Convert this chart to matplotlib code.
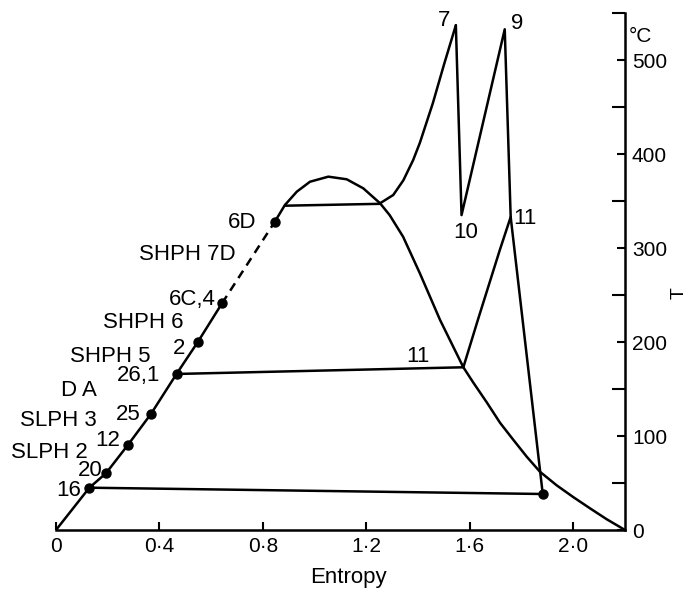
import matplotlib
matplotlib.use("Agg")
import matplotlib.pyplot as plt

plt.rcParams['font.family'] = ['Liberation Sans', 'DejaVu Sans']

# ---------------- data (entropy, temperature) ----------------
# saturated liquid line (solid part) with heater points
liq_s = [0.0, 0.129, 0.193, 0.277, 0.367, 0.466, 0.549, 0.642]
liq_T = [0.0, 45.0, 60.3, 90.1, 123.4, 166.0, 200.3, 241.2]
# dashed section 6C,4 -> 6D
dash_s = [0.642, 0.845]
dash_T = [241.2, 327.5]
# rest of saturation dome from 6D round to s=2.2
dome_s = [0.845, 0.885, 0.931, 0.982, 1.053, 1.124, 1.188, 1.253, 1.29, 1.342,
          1.407, 1.485, 1.575, 1.613, 1.665, 1.717, 1.768, 1.820, 1.871, 1.936,
          2.0, 2.065, 2.129, 2.2]
dome_T = [327.5, 345.7, 359.9, 370.5, 375.9, 373.1, 363.5, 347.6, 335.0, 312.0,
          273.0, 223.4, 173.1, 157.0, 136.0, 114.0, 96.0, 78.0, 62.0, 47.5,
          35.0, 23.0, 11.5, 0.0]
# superheating up to point 7
sup_s = [1.253, 1.304, 1.343, 1.381, 1.407, 1.457, 1.50, 1.546]
sup_T = [347.6, 356.4, 372.0, 393.6, 412.0, 454.0, 495.0, 537.0]
# 7 -> 10 -> 9 -> 11 -> condenser
rh_s = [1.546, 1.568, 1.735, 1.758, 1.882]
rh_T = [537.0, 335.0, 532.7, 333.0, 38.3]
# 11 (on dome) -> 11 (turbine)
ext_s = [1.575, 1.631, 1.716, 1.758]
ext_T = [173.1, 223.4, 297.9, 333.0]
# horizontal lines (evaporation / condensing)
hz1_s = [0.885, 1.253]; hz1_T = [345.0, 347.0]
hz2_s = [0.466, 1.575]; hz2_T = [166.0, 173.1]
hz3_s = [0.129, 1.882]; hz3_T = [45.0, 38.3]
# dots
dot_s = [0.129, 0.193, 0.277, 0.367, 0.466, 0.549, 0.642, 0.845, 1.882]
dot_T = [45.0, 60.3, 90.1, 123.4, 166.0, 200.3, 241.2, 327.5, 38.3]

x_ticks = [0, 0.4, 0.8, 1.2, 1.6, 2.0]
x_labels = ["0", "0·4", "0·8", "1·2", "1·6", "2·0"]
y_ticks = [0, 100, 200, 300, 400, 500]
y_minor = [50, 150, 250, 350, 450, 550]

# labels: text, pixel centre in the image
labels = [
    ("16", 69, 491), ("20", 90, 470), ("SLPH 2", 49, 452), ("12", 108, 441),
    ("SLPH 3", 58, 420), ("25", 128, 414), ("D A", 79, 391), ("26,1", 139, 375),
    ("SHPH 5", 110, 356), ("2", 179, 349), ("SHPH 6", 143, 323),
    ("6C,4", 192, 299), ("SHPH 7D", 187, 254), ("6D", 242, 223),
    ("7", 444, 21), ("9", 517, 23), ("10", 466, 232), ("11", 525, 218),
    ("11", 418, 357),
]

W, H = 688, 589
fig = plt.figure(figsize=(W / 100, H / 100), dpi=100)
x0, x1, yb, yt = 56, 625, 530, 13
ax = fig.add_axes([x0 / W, (H - yb) / H, (x1 - x0) / W, (yb - yt) / H])
ax.set_xlim(0, 2.2)
ax.set_ylim(0, 550)


def px2data(px, py):
    s = (px - x0) / (x1 - x0) * 2.2
    T = (yb - py) / (yb - yt) * 550
    return s, T


lw = 1.8
kw = dict(color="black", lw=lw, solid_capstyle="round", solid_joinstyle="round")
ax.plot(liq_s, liq_T, **kw)
ax.plot(dash_s, dash_T, color="black", lw=lw, dashes=(3.5, 2.5))
ax.plot(dome_s, dome_T, **kw)
ax.plot(sup_s, sup_T, **kw)
ax.plot(rh_s, rh_T, **kw)
ax.plot(ext_s, ext_T, **kw)
for hs, ht in ((hz1_s, hz1_T), (hz2_s, hz2_T), (hz3_s, hz3_T)):
    ax.plot(hs, ht, **kw)
ax.plot(dot_s, dot_T, "o", color="black", ms=6.5, ls="none")

fs = 16
for txt, px, py in labels:
    s, T = px2data(px, py)
    ax.text(s, T, txt, ha="center", va="center", fontsize=fs)

# axes styling
for side in ("left", "top"):
    ax.spines[side].set_visible(False)
ax.spines["bottom"].set_linewidth(1.8)
ax.spines["right"].set_linewidth(1.8)

ax.set_xticks(x_ticks)
ax.set_xticklabels(x_labels, fontsize=15)
ax.tick_params(axis="x", direction="in", length=6, width=1.5, pad=5)

ax.yaxis.tick_right()
ax.set_yticks(y_ticks)
ax.set_yticklabels([str(v) for v in y_ticks], fontsize=15)
ax.set_yticks(y_minor, minor=True)
ax.tick_params(axis="y", which="major", direction="in", length=6, width=1.5, pad=5)
ax.tick_params(axis="y", which="minor", direction="in", length=9.5, width=1.5)

fig.text(348 / W, (H - 577) / H, "Entropy", ha="center", va="center", fontsize=fs)
fig.text(640 / W, (H - 37) / H, "°C", ha="center", va="center", fontsize=15)
fig.text(679 / W, (H - 293) / H, "T", ha="center", va="center", fontsize=14, rotation=90)

fig.savefig("out.png", dpi=100)
